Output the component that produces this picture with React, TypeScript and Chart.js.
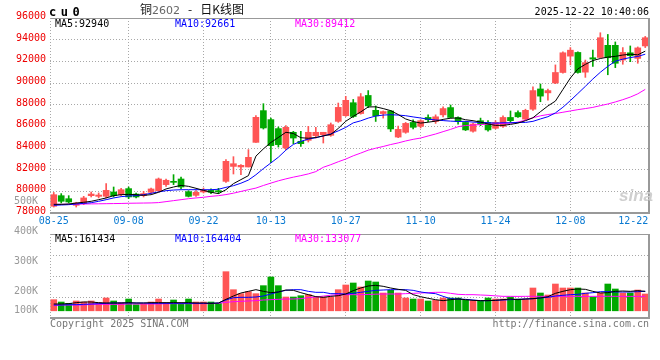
import React, { useEffect, useRef } from 'react';
import { Chart, registerables } from 'chart.js';

Chart.register(...registerables);

// ---------- data ----------
const DATES = [
  '08-25', '08-26', '08-27', '08-28', '08-29',
  '09-01', '09-02', '09-03', '09-04', '09-05', '09-08', '09-09', '09-10', '09-11', '09-12',
  '09-15', '09-16', '09-17', '09-18', '09-19', '09-22', '09-23', '09-24', '09-25', '09-26',
  '09-29', '09-30',
  '10-09', '10-10', '10-13', '10-14', '10-15', '10-16', '10-17', '10-20', '10-21', '10-22',
  '10-23', '10-24', '10-27', '10-28', '10-29', '10-30', '10-31',
  '11-03', '11-04', '11-05', '11-06', '11-07', '11-10', '11-11', '11-12', '11-13', '11-14',
  '11-17', '11-18', '11-19', '11-20', '11-21', '11-24', '11-25', '11-26', '11-27', '11-28',
  '12-01', '12-02', '12-03', '12-04', '12-05', '12-08', '12-09', '12-10', '12-11', '12-12',
  '12-15', '12-16', '12-17', '12-18', '12-19', '12-22',
];

const OPEN = [
  78620, 79600, 79320, 78710, 78860, 79600, 79540, 79540, 79940, 79690,
  80250, 79750, 79600, 79910, 80060, 80620, 80920, 81140, 79970, 79630,
  79940, 80090, 80060, 80920, 82300, 82250, 82250, 84520, 87450, 86620,
  85790, 84000, 85450, 84620, 84710, 85140, 85230, 85170, 86460, 86980,
  88180, 87180, 88850, 87480, 87180, 87420, 85010, 85450, 86360, 86000,
  86820, 86450, 87060, 87730, 86820, 86360, 85550, 86520, 86360, 85820,
  86000, 86820, 87270, 86670, 87580, 89450, 89090, 90000, 90970, 92480,
  92820, 91000, 92330, 92360, 93480, 93480, 92120, 92790, 92270, 93420,
];
const HIGH = [
  79900, 79790, 79600, 78990, 79540, 79940, 79850, 80710, 80400, 80280,
  80400, 79850, 80000, 80310, 81230, 81140, 81540, 81320, 80060, 80060,
  80310, 80220, 80280, 82920, 83200, 82460, 83850, 86990, 88090, 86770,
  85940, 86060, 85540, 85540, 86000, 85910, 85450, 86310, 88150, 88770,
  88480, 89030, 89300, 87880, 87420, 87480, 86020, 86360, 86610, 86610,
  87060, 87060, 87790, 87970, 86880, 86450, 86270, 86760, 86520, 86520,
  86970, 87420, 87420, 87580, 89640, 89910, 89450, 91670, 92880, 93270,
  92880, 92120, 93030, 94640, 94480, 93790, 93270, 93420, 93330, 94300,
];
const LOW = [
  78550, 78920, 78920, 78550, 78770, 79480, 79390, 79390, 79480, 79600,
  79320, 79390, 79480, 79790, 79970, 80460, 80620, 80250, 79480, 79540,
  79850, 79790, 79790, 80830, 81600, 81540, 82250, 84520, 85750, 82680,
  84090, 83850, 84400, 84150, 84550, 84920, 84460, 85080, 86370, 86920,
  86820, 87120, 87730, 86450, 86760, 85520, 84960, 85360, 85760, 85850,
  86420, 86270, 86880, 86760, 86210, 85610, 85450, 86060, 85550, 85760,
  85910, 86360, 86820, 86580, 87480, 88270, 88420, 89940, 90910, 91670,
  90910, 90520, 91520, 92330, 90760, 91420, 91730, 91970, 91820, 93270,
];
const CLOSE = [
  79690, 79080, 79020, 78920, 79390, 79750, 79660, 80090, 79600, 80150,
  79480, 79480, 79790, 80220, 81140, 81020, 80830, 80400, 79540, 79910,
  80090, 79910, 79970, 82770, 82550, 82400, 83140, 86830, 85850, 84220,
  84310, 85910, 84920, 84400, 85450, 85450, 85450, 86150, 87750, 88400,
  86910, 88730, 87880, 86970, 87360, 85760, 85720, 86270, 85910, 86520,
  86610, 86880, 87640, 86820, 86450, 85670, 86210, 86210, 85670, 86360,
  86820, 86520, 86880, 87480, 89300, 88790, 89300, 90970, 92790, 93030,
  90970, 91880, 92210, 94180, 92330, 91820, 92820, 92520, 93240, 94180,
];

const MA5 = [
  78800, 78800, 78830, 78920, 78990, 79080, 79230, 79390, 79600, 79690,
  79720, 79690, 79630, 79690, 79910, 80220, 80400, 80550, 80460, 80280,
  80090, 79910, 79790, 80150, 80710, 81080, 81450, 83250, 83920, 84510,
  84970, 85450, 85340, 84950, 84900, 84970, 85120, 85250, 85810, 86470,
  86920, 87330, 87790, 87800, 87640, 87450, 87090, 86680, 86450, 86300,
  86380, 86480, 86640, 86750, 86770, 86610, 86520, 86390, 86210, 86090,
  86090, 86180, 86300, 86520, 86790, 87350, 87880, 88330, 89400, 90460,
  91300, 91720, 92070, 92260, 92390, 92460, 92580, 92660, 92600, 92940,
];
const MA10 = [
  78710, 78740, 78770, 78830, 78890, 78950, 79080, 79230, 79390, 79510,
  79570, 79600, 79690, 79820, 79940, 80060, 80120, 80150, 80150, 80150,
  80150, 80150, 80190, 80370, 80520, 80750, 81040, 81530, 82100, 82620,
  83150, 83800, 84330, 84620, 84820, 84950, 85110, 85300, 85580, 85900,
  86320, 86510, 86760, 86950, 87040, 87070, 87040, 86980, 86870, 86770,
  86660, 86590, 86530, 86480, 86450, 86460, 86390, 86360, 86330, 86300,
  86330, 86330, 86360, 86360, 86460, 86680, 86890, 87240, 87760, 88380,
  89030, 89690, 90370, 90990, 91540, 92010, 92200, 92350, 92450, 92661,
];
const MA30 = [
  78800, 78800, 78810, 78820, 78830, 78840, 78850, 78860, 78870, 78880,
  78900, 78910, 78920, 78930, 78960, 79050, 79140, 79230, 79320, 79390,
  79450, 79540, 79600, 79700, 79830, 79990, 80150, 80300, 80540, 80760,
  80970, 81150, 81310, 81450, 81610, 81820, 82220, 82460, 82730, 82980,
  83280, 83530, 83800, 83980, 84140, 84320, 84470, 84650, 84800, 84920,
  85110, 85290, 85510, 85720, 85960, 86080, 86110, 86170, 86200, 86230,
  86270, 86290, 86390, 86570, 86790, 86970, 87090, 87180, 87300, 87420,
  87540, 87640, 87750, 87910, 88060, 88250, 88460, 88700, 89000, 89412,
];

const VOLUME = [
  171100, 163300, 158900, 166700, 163300, 166700, 161100, 176700, 166700, 161100,
  173300, 154400, 156700, 163300, 173300, 160000, 170000, 156700, 173300, 163300,
  163300, 163300, 158900, 264400, 204400, 191100, 197800, 191100, 217800, 246700,
  217800, 180000, 180000, 184400, 188000, 180000, 180000, 180000, 204400, 220000,
  226700, 213300, 233300, 230000, 193300, 202200, 193300, 176700, 173300, 173300,
  166700, 168900, 176700, 176700, 176700, 168900, 167800, 167800, 176700, 173300,
  173300, 180000, 173300, 173300, 210000, 193300, 186700, 223300, 210000, 210000,
  210000, 193300, 180000, 193300, 223300, 206700, 193300, 193300, 203300, 190000,
];
const VOL_MA5 = [
  156700, 156700, 157800, 161100, 163300, 163300, 161100, 160000, 160000, 160000,
  161100, 160000, 160000, 161100, 161100, 161100, 161100, 161100, 161100, 160000,
  160000, 158900, 160000, 172200, 183300, 193300, 198900, 204400, 198900, 194400,
  196700, 203300, 202200, 194400, 187800, 181100, 178900, 182200, 184400, 190000,
  201100, 210000, 216700, 218900, 215600, 210000, 205600, 202200, 187800, 181100,
  175600, 171100, 167800, 171100, 173300, 171100, 168900, 167800, 167800, 168900,
  171100, 173300, 171100, 173300, 174400, 176700, 181100, 192200, 198900, 204400,
  206700, 205600, 198900, 193300, 194400, 198900, 200000, 198900, 201100, 198900,
];
const VOL_MA10 = [
  153300, 153300, 154400, 154400, 155600, 156700, 157800, 158900, 160000, 160000,
  160000, 160000, 160000, 158900, 158900, 158900, 158900, 158900, 158900, 158900,
  158900, 158900, 160000, 170000, 177800, 178900, 178900, 180000, 183300, 190000,
  196700, 202200, 204400, 204400, 198900, 195600, 195600, 191100, 191100, 190000,
  192200, 195600, 198900, 202200, 203300, 204400, 204400, 204400, 202200, 196700,
  193300, 191100, 182200, 174400, 173300, 172200, 170000, 167800, 167800, 168900,
  170000, 171100, 172200, 173300, 174400, 176700, 178900, 183300, 185600, 187800,
  188900, 192200, 194400, 197800, 197800, 196700, 196700, 196700, 197800, 198900,
];
const VOL_MA30 = [
  152200, 153300, 153300, 153300, 153300, 155600, 155600, 155600, 155600, 155600,
  156700, 156700, 156700, 156700, 156700, 157800, 157800, 157800, 157800, 157800,
  157800, 157800, 158900, 162200, 164400, 165600, 166700, 167800, 170000, 171100,
  172200, 173300, 173300, 174400, 178000, 180000, 183000, 186000, 187800, 187800,
  187800, 187800, 188300, 189400, 190000, 190000, 190000, 191100, 192200, 193300,
  194400, 195600, 195600, 192200, 188900, 187800, 187800, 186700, 185600, 183900,
  182200, 182200, 182000, 182200, 182400, 182200, 182000, 182200, 182400, 182200,
  182200, 182000, 182200, 182200, 182400, 182200, 182200, 182000, 182200, 182200,
];

const X_TICK_DATES = ['08-25', '09-08', '09-22', '10-13', '10-27', '11-10', '11-24', '12-08', '12-22'];
const PRICE_MIN = 78000;
const PRICE_MAX = 96000;
const PRICE_STEP = 2000;
const VOL_MIN = 110000;
const VOL_MAX = 390000;
const VOL_GRID_STEP = 70000;
const VOL_BASE = 134000;
const VOL_TICK_VALUES = [100000, 200000, 300000, 400000, 500000];
const VOL_TICK_LABELS = ['100K', '200K', '300K', '400K', '500K'];

// ---------- styles ----------
const UP = '#ff5555';
const DOWN = '#00a800';
const GRID = '#a8a8a8';
const FRAME = '#999999';
const MONO = "'DejaVu Sans Mono', monospace";
const tickFont = { family: "'DejaVu Sans Mono', monospace", size: 10 };

const candleColors = CLOSE.map((c, i) => (c >= OPEN[i] ? UP : DOWN));

const framePlugin = {
  id: 'frame',
  afterDatasetsDraw(chart: any) {
    const { ctx, chartArea: a } = chart;
    ctx.save();
    ctx.strokeStyle = FRAME;
    ctx.lineWidth = 1;
    ctx.beginPath();
    ctx.moveTo(a.left, Math.round(a.top) + 0.5);
    ctx.lineTo(a.right, Math.round(a.top) + 0.5);
    ctx.stroke();
    ctx.lineWidth = 2;
    ctx.beginPath();
    ctx.moveTo(a.right, a.top);
    ctx.lineTo(a.right, a.bottom + 1);
    ctx.moveTo(a.left, a.bottom);
    ctx.lineTo(a.right + 1, a.bottom);
    ctx.stroke();
    ctx.lineWidth = 1;
    ctx.setLineDash([1, 2]);
    ctx.strokeStyle = GRID;
    ctx.beginPath();
    ctx.moveTo(Math.round(a.left) + 0.5, a.top);
    ctx.lineTo(Math.round(a.left) + 0.5, a.bottom);
    ctx.stroke();
    ctx.restore();
  },
};

function xScale(showLabels: boolean, height: number) {
  const lastIdx = X_TICK_DATES.length - 1;
  return {
    type: 'category',
    labels: DATES,
    offset: true,
    afterBuildTicks: (s: any) => {
      s.ticks = X_TICK_DATES.map((d) => ({ value: DATES.indexOf(d) }));
    },
    afterFit: (s: any) => {
      s.height = height;
      s.paddingLeft = 0;
      s.paddingRight = 0;
    },
    ticks: {
      display: showLabels,
      autoSkip: false,
      maxRotation: 0,
      minRotation: 0,
      padding: 2.5,
      color: '#0a7ad2',
      font: tickFont,
      callback: (_v: any, i: number) => (i === lastIdx ? X_TICK_DATES[i] + '    ' : X_TICK_DATES[i]),
    },
    grid: {
      offset: false,
      drawTicks: false,
      color: (ctx: any) => (ctx.index === 0 || ctx.index === lastIdx ? 'rgba(0,0,0,0)' : GRID),
    },
    border: { display: false, dash: [1, 2] },
  };
}

function lineDs(label: string, data: number[], color: string, yAxisID: string) {
  return {
    type: 'line',
    label,
    data,
    yAxisID,
    borderColor: color,
    borderWidth: 1,
    pointRadius: 0,
    tension: 0,
    fill: false,
    order: 0,
  };
}

function mainConfig(): any {
  return {
    type: 'bar',
    data: {
      labels: DATES,
      datasets: [
        lineDs('MA5', MA5, '#000000', 'y'),
        lineDs('MA10', MA10, '#0000ff', 'y'),
        lineDs('MA30', MA30, '#ff00ff', 'y'),
        {
          type: 'bar',
          label: 'body',
          data: OPEN.map((o, i) => [o, CLOSE[i]]),
          backgroundColor: candleColors,
          borderWidth: 0,
          barThickness: 6,
          minBarLength: 1,
          grouped: false,
          order: 1,
        },
        {
          type: 'bar',
          label: 'wick',
          data: LOW.map((l, i) => [l, HIGH[i]]),
          backgroundColor: candleColors,
          borderWidth: 0,
          barThickness: 1,
          grouped: false,
          order: 2,
        },
      ],
    },
    options: {
      responsive: false,
      animation: false,
      events: [],
      layout: { padding: { left: 0, right: 11, top: 18, bottom: 0 } },
      plugins: { legend: { display: false }, tooltip: { enabled: false } },
      scales: {
        x: xScale(true, 147),
        y: {
          position: 'left',
          min: PRICE_MIN,
          max: PRICE_MAX,
          afterFit: (s: any) => {
            s.width = 50;
            s.paddingTop = 0;
            s.paddingBottom = 0;
          },
          ticks: {
            stepSize: PRICE_STEP,
            color: '#ee0000',
            font: tickFont,
            padding: 4,
            labelOffset: -1.5,
            autoSkip: false,
            callback: (v: any) => String(v),
          },
          grid: { drawTicks: false, color: GRID },
          border: { display: false, dash: [1, 2] },
        },
      },
    },
    plugins: [framePlugin],
  };
}

function volConfig(): any {
  return {
    type: 'bar',
    data: {
      labels: DATES,
      datasets: [
        lineDs('MA5', VOL_MA5, '#000000', 'yv'),
        lineDs('MA10', VOL_MA10, '#0000ff', 'yv'),
        lineDs('MA30', VOL_MA30, '#ff00ff', 'yv'),
        {
          type: 'bar',
          label: 'volume',
          data: VOLUME,
          yAxisID: 'yv',
          base: VOL_BASE,
          backgroundColor: candleColors,
          borderWidth: 0,
          barThickness: 6,
          grouped: false,
          order: 1,
        },
      ],
    },
    options: {
      responsive: false,
      animation: false,
      events: [],
      layout: { padding: { left: 0, right: 11, top: 234, bottom: 42 } },
      plugins: { legend: { display: false }, tooltip: { enabled: false } },
      scales: {
        x: xScale(false, 0),
        yv: {
          position: 'left',
          min: VOL_MIN,
          max: VOL_MAX,
          afterBuildTicks: (s: any) => {
            s.ticks = VOL_TICK_VALUES.map((v) => ({ value: Math.max(v, VOL_BASE) }));
          },
          afterFit: (s: any) => {
            s.width = 50;
            s.paddingTop = 0;
            s.paddingBottom = 0;
          },
          ticks: {
            autoSkip: false,
            color: '#999999',
            font: tickFont,
            padding: 4,
            callback: (_v: any, i: number) => VOL_TICK_LABELS[i],
          },
          grid: { display: false },
          border: { display: false },
        },
        yg: {
          position: 'right',
          min: VOL_MIN,
          max: VOL_MAX,
          afterFit: (s: any) => {
            s.width = 0;
            s.paddingTop = 0;
            s.paddingBottom = 0;
          },
          ticks: { display: false, stepSize: VOL_GRID_STEP },
          grid: { drawTicks: false, color: GRID },
          border: { display: false, dash: [1, 2] },
        },
      },
    },
    plugins: [framePlugin],
  };
}

const txt = (extra: React.CSSProperties): React.CSSProperties => ({
  position: 'absolute',
  fontFamily: MONO,
  fontSize: 10,
  lineHeight: '10px',
  whiteSpace: 'pre',
  ...extra,
});

export default function App() {
  const mainRef = useRef<HTMLCanvasElement>(null);
  const volRef = useRef<HTMLCanvasElement>(null);

  useEffect(() => {
    const c1 = new Chart(mainRef.current as HTMLCanvasElement, mainConfig());
    const c2 = new Chart(volRef.current as HTMLCanvasElement, volConfig());
    return () => {
      c1.destroy();
      c2.destroy();
    };
  }, []);

  return (
    <div
      style={{
        position: 'fixed',
        left: 0,
        top: 0,
        width: 660,
        height: 360,
        background: '#ffffff',
        overflow: 'hidden',
      }}
    >
      <canvas ref={mainRef} width={660} height={360} style={{ position: 'absolute', left: 0, top: 0 }} />
      <canvas ref={volRef} width={660} height={360} style={{ position: 'absolute', left: 0, top: 0 }} />

      <div style={txt({ left: 49, top: 6, fontSize: 12, lineHeight: '12px', fontWeight: 'bold', letterSpacing: 4.5, color: '#000' })}>cu0</div>
      <div
        style={{
          position: 'absolute',
          left: 140,
          top: 3,
          fontFamily: "'Noto Sans CJK SC', sans-serif",
          fontSize: 12,
          lineHeight: '12px',
          whiteSpace: 'pre',
          color: '#111',
        }}
      >
        铜<span style={{ color: '#666', fontFamily: "'DejaVu Sans', sans-serif", fontSize: 11 }}>2602</span>{'   -   '}日K线图
      </div>
      <div style={txt({ right: 11, top: 7, color: '#000' })}>2025-12-22 10:40:06</div>

      <div style={txt({ left: 55, top: 18.6, color: '#000' })}>MA5:92940</div>
      <div style={txt({ left: 175, top: 18.6, color: '#0000ff' })}>MA10:92661</div>
      <div style={txt({ left: 295, top: 18.6, color: '#ff00ff' })}>MA30:89412</div>

      <div style={txt({ left: 55, top: 233.5, color: '#000' })}>MA5:161434</div>
      <div style={txt({ left: 175, top: 233.5, color: '#0000ff' })}>MA10:164404</div>
      <div style={txt({ left: 295, top: 233.5, color: '#ff00ff' })}>MA30:133077</div>

      <div style={txt({ left: 50, top: 319, color: '#777' })}>Copyright 2025 SINA.COM</div>
      <div style={txt({ right: 11, top: 319, color: '#777' })}>http://finance.sina.com.cn</div>

      <div
        style={{
          position: 'absolute',
          left: 619,
          top: 187,
          fontFamily: "'Liberation Sans', sans-serif",
          fontSize: 17,
          lineHeight: '17px',
          fontWeight: 'bold',
          fontStyle: 'italic',
          color: '#cfcfcf',
        }}
      >
        sina
      </div>
    </div>
  );
}
